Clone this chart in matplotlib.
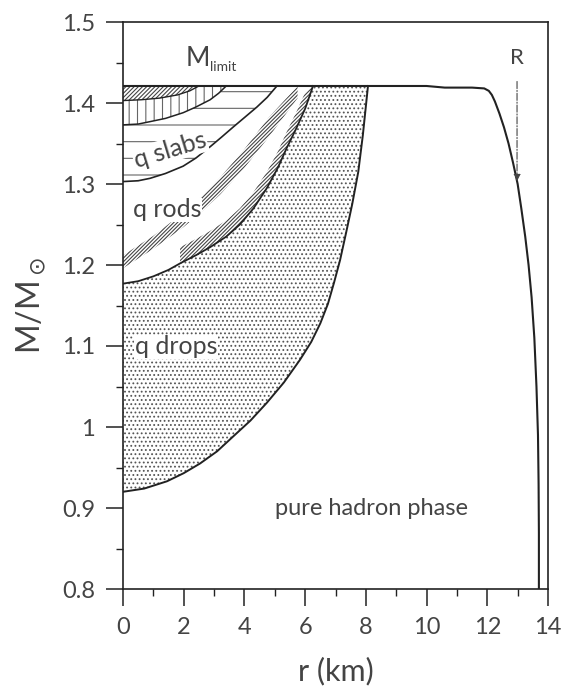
import matplotlib
matplotlib.use('Agg')
import matplotlib.pyplot as plt

plt.rcParams['font.family'] = ['Lato', 'DejaVu Sans']
plt.rcParams['hatch.linewidth'] = 0.8

# outer curve: M_limit plateau and star radius
r_outer = [0, 2, 4, 6, 8, 10, 10.6, 11.5, 11.9, 12.05, 12.15, 12.25, 12.4, 12.55, 12.7, 12.85, 13.0,
           13.12, 13.25, 13.36, 13.46, 13.55, 13.62, 13.67, 13.69, 13.7, 13.7]
m_outer = [1.421, 1.421, 1.421, 1.421, 1.421, 1.421, 1.419, 1.419, 1.418, 1.415, 1.41, 1.402, 1.387,
           1.37, 1.35, 1.326, 1.3, 1.27, 1.235, 1.2, 1.16, 1.11, 1.05, 0.99, 0.93, 0.87, 0.8]

# hadron / q drops boundary
r_hd = [0, 0.7, 1.45, 2.0, 2.54, 3.1, 3.62, 4.2, 4.74, 5.3, 5.83, 6.2, 6.5, 6.75, 6.95, 7.15,
        7.35, 7.55, 7.75, 7.9, 8.07]
m_hd = [0.92, 0.924, 0.933, 0.943, 0.955, 0.970, 0.988, 1.008, 1.030, 1.055, 1.083, 1.105, 1.128,
        1.152, 1.178, 1.206, 1.24, 1.275, 1.315, 1.36, 1.421]

# q drops / q rods boundary
r_dr = [0, 0.5, 1.0, 1.5, 1.88, 2.4, 2.87, 3.4, 3.85, 4.3, 4.74, 5.1, 5.4, 5.7, 6.0, 6.26]
m_dr = [1.177, 1.18, 1.186, 1.194, 1.202, 1.212, 1.222, 1.235, 1.25, 1.27, 1.295, 1.32, 1.345,
        1.368, 1.393, 1.421]

# q rods / q slabs boundary
r_rs = [0, 0.5, 0.89, 1.4, 1.98, 2.4, 2.87, 3.25, 3.62, 4.0, 4.41, 4.75, 5.07]
m_rs = [1.303, 1.304, 1.307, 1.313, 1.322, 1.332, 1.346, 1.358, 1.370, 1.382, 1.395, 1.407, 1.421]

# upper slabs boundary
r_sb = [0, 0.5, 0.89, 1.4, 1.98, 2.4, 2.87, 3.15, 3.4]
m_sb = [1.373, 1.374, 1.377, 1.381, 1.388, 1.395, 1.404, 1.412, 1.421]

# topmost phase boundary
r_bt = [0, 0.6, 1.2, 1.8, 2.2, 2.5]
m_bt = [1.403, 1.404, 1.406, 1.41, 1.415, 1.421]

# hatched band in the middle of the rods region
r_band = [0, 1.0, 2.0, 2.54, 3.2, 4.0, 4.8, 5.75]
m_band_lo = [1.196, 1.22, 1.247, 1.264, 1.287, 1.32, 1.358, 1.406]
m_band_hi = [1.212, 1.236, 1.265, 1.283, 1.308, 1.343, 1.382, 1.421]

m_limit = 1.421
x_ticks = [0, 2, 4, 6, 8, 10, 12, 14]
y_ticks = [0.8, 0.9, 1.0, 1.1, 1.2, 1.3, 1.4, 1.5]
y_ticklabels = ['0.8', '0.9', '1', '1.1', '1.2', '1.3', '1.4', '1.5']
r_arrow = 12.98

ink = '#222222'
txt = '#444444'
band_w = 0.02

fig = plt.figure(figsize=(5.62, 6.89), dpi=100)
ax = fig.add_axes([123 / 562, 1 - 589 / 689, 425 / 562, 567 / 689])

# q drops: stippled
ax.fill_between(r_hd, m_hd, m_limit, facecolor='white', edgecolor='#555555', hatch='....', linewidth=0)
ax.fill_between(r_dr, m_dr, m_limit, facecolor='white', linewidth=0)
# rods bands
ax.fill_between(r_band, m_band_lo, m_band_hi, facecolor='white', edgecolor='#444444', hatch='/' * 9, linewidth=0)
ax.fill_between(r_dr[4:], m_dr[4:], [min(m + band_w, m_limit) for m in m_dr[4:]], facecolor='white',
                edgecolor='#444444', hatch='/' * 9, linewidth=0)
# slabs: horizontal dashes
ax.fill_between(r_rs, m_rs, m_limit, facecolor='white', edgecolor='#666666', hatch='-', linewidth=0)
# region above slabs: vertical dashes
ax.fill_between(r_sb, m_sb, m_limit, facecolor='white', edgecolor='#666666', hatch='||', linewidth=0)
# topmost region
ax.fill_between(r_bt, m_bt, m_limit, facecolor='white', edgecolor='#444444', hatch='/' * 8, linewidth=0)

ax.plot(r_outer, m_outer, color=ink, lw=1.5)
ax.plot(r_hd, m_hd, color=ink, lw=1.4)
ax.plot(r_dr, m_dr, color=ink, lw=1.3)
ax.plot(r_rs, m_rs, color=ink, lw=1.2)
ax.plot(r_sb, m_sb, color=ink, lw=1.1)
ax.plot(r_bt, m_bt, color=ink, lw=1.0)

ax.text(2.45, 1.455, 'M', fontsize=19, color=txt, ha='center', va='center')
ax.text(3.3, 1.444, 'limit', fontsize=10, color=txt, ha='center', va='center')
ax.text(1.55, 1.342, 'q slabs', fontsize=18, color=txt, ha='center', va='center', rotation=17,
        bbox=dict(facecolor='white', edgecolor='none', pad=0.5))
ax.text(1.45, 1.268, 'q rods', fontsize=18, color=txt, ha='center', va='center',
        bbox=dict(facecolor='white', edgecolor='none', pad=0.5))
ax.text(1.75, 1.099, 'q drops', fontsize=18, color=txt, ha='center', va='center',
        bbox=dict(facecolor='white', edgecolor='none', pad=0.5))
ax.text(8.2, 0.899, 'pure hadron phase', fontsize=17, color=txt, ha='center', va='center')
ax.text(r_arrow, 1.455, 'R', fontsize=16, color=txt, ha='center', va='center')
ax.annotate('', xy=(r_arrow, 1.30), xytext=(r_arrow, 1.43),
            arrowprops=dict(arrowstyle='-|>', color='#444444', lw=0.8, linestyle='-.', mutation_scale=10))

ax.set_xlim(0, 14)
ax.set_ylim(0.8, 1.5)
ax.set_xticks(x_ticks)
ax.set_xticks(range(1, 14, 2), minor=True)
ax.set_yticks(y_ticks)
ax.set_yticklabels(y_ticklabels)
ax.set_yticks([0.85, 0.95, 1.05, 1.15, 1.25, 1.35, 1.45], minor=True)
ax.tick_params(which='major', direction='out', length=12, width=1.1, labelsize=17, labelcolor=txt, color=ink, pad=8)
ax.tick_params(which='minor', direction='out', length=5, width=1.0, color=ink)
for s in ax.spines.values():
    s.set_linewidth(1.2)
    s.set_color(ink)

ax.set_xlabel('r (km)', fontsize=22, color=txt, labelpad=14)
ax.set_ylabel('M/M$_\\odot$', fontsize=23, color=txt, labelpad=10)

fig.savefig('out.png', dpi=100)
